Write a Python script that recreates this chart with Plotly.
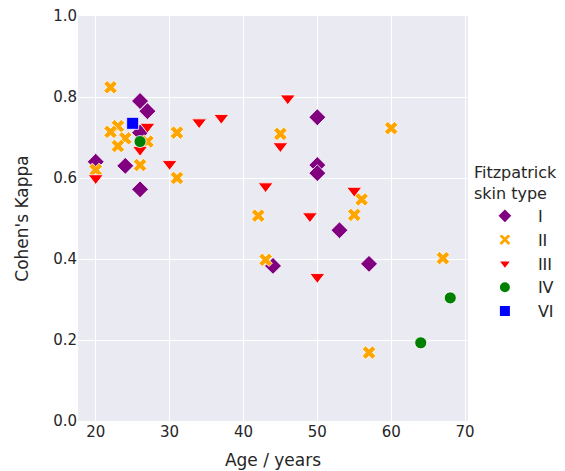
import plotly.graph_objects as go

# Fitzpatrick skin type I
age_I = [20, 24, 26, 27, 26, 26, 50, 50, 50, 44, 53, 57]
kappa_I = [0.64, 0.63, 0.79, 0.765, 0.572, 0.712, 0.75, 0.632, 0.612, 0.383, 0.471, 0.388]
# II
age_II = [22, 23, 22, 24, 23, 27, 26, 31, 31, 20, 45, 60, 56, 42, 55, 43, 67, 57]
kappa_II = [0.824, 0.728, 0.714, 0.698, 0.679, 0.69, 0.632, 0.712, 0.60, 0.62, 0.709, 0.723, 0.547, 0.507, 0.509, 0.398, 0.402, 0.169]
# III
age_III = [20, 27, 26, 30, 34, 37, 46, 45, 43, 55, 49, 50]
kappa_III = [0.60, 0.727, 0.67, 0.635, 0.738, 0.749, 0.797, 0.679, 0.58, 0.569, 0.506, 0.356]
# IV
age_IV = [26, 68, 64]
kappa_IV = [0.69, 0.304, 0.193]
# VI
age_VI = [25]
kappa_VI = [0.735]

groups = [
    ("I", age_I, kappa_I, "diamond", "#800080", 13),
    ("II", age_II, kappa_II, "x", "#FFA500", 12),
    ("III", age_III, kappa_III, "triangle-down", "#FF0000", 13),
    ("IV", age_IV, kappa_IV, "circle", "#008000", 12),
    ("VI", age_VI, kappa_VI, "square", "#0000FF", 12),
]

fig = go.Figure()
for name, xs, ys, sym, col, sz in groups:
    fig.add_trace(go.Scatter(
        x=xs, y=ys, mode="markers", name=name,
        marker=dict(symbol=sym, color=col, size=sz,
                    line=dict(color="white", width=0.8)),
    ))

txt = "#262626"
fig.update_layout(
    width=565, height=471,
    margin=dict(l=78, r=97, t=16, b=50, autoexpand=False),
    paper_bgcolor="white", plot_bgcolor="#EAEAF2",
    font=dict(family="DejaVu Sans", size=15, color=txt),
    showlegend=True,
    legend=dict(
        title=dict(text="Fitzpatrick<br>skin type", font=dict(size=16, color=txt)),
        x=1.01, xanchor="left", y=0.44, yanchor="middle",
        font=dict(size=16, color=txt), bgcolor="rgba(0,0,0,0)",
        itemsizing="constant", itemwidth=56,
    ),
)
fig.update_xaxes(
    range=[17.6, 70.4], tickvals=[20, 30, 40, 50, 60, 70],
    showgrid=True, gridcolor="white", gridwidth=1, zeroline=False,
    showline=False, ticks="", tickfont=dict(size=15, color=txt),
    automargin=False, ticklabeloverflow="allow",
    title=dict(text="Age / years", font=dict(size=17, color=txt), standoff=14),
)
fig.update_yaxes(
    range=[0, 1.0], tickvals=[0, 0.2, 0.4, 0.6, 0.8, 1.0],
    ticktext=["0.0", "0.2", "0.4", "0.6", "0.8", "1.0"],
    showgrid=True, gridcolor="white", gridwidth=1, zeroline=False,
    showline=False, ticks="", tickfont=dict(size=15, color=txt),
    automargin=False, ticklabeloverflow="allow",
    title=dict(text="Cohen's Kappa", font=dict(size=17, color=txt), standoff=20),
)
# remove the page's default 8px body margin so the figure sits at the window origin
fig.write_html("out.html", config={"displayModeBar": False},
               post_script="document.body.style.margin='0';")
